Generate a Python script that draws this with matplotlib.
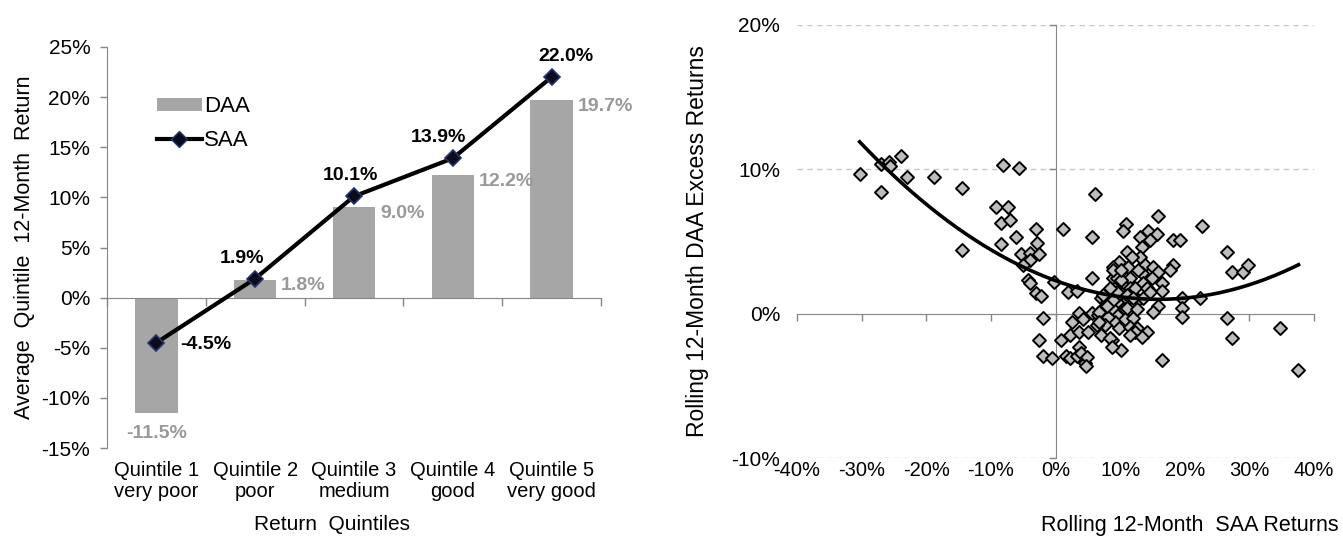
import numpy as np
import matplotlib
matplotlib.use("Agg")
import matplotlib.pyplot as plt
from matplotlib.lines import Line2D
from matplotlib.patches import Patch
from matplotlib.ticker import FuncFormatter

plt.rcParams['font.family'] = ['Liberation Sans', 'DejaVu Sans']

# ---- Left panel: average quintile returns ----
quintile_labels = ["Quintile 1\nvery poor", "Quintile 2\npoor", "Quintile 3\nmedium",
                   "Quintile 4\ngood", "Quintile 5\nvery good"]
daa_returns = [-11.5, 1.8, 9.0, 12.2, 19.7]
saa_returns = [-4.5, 1.9, 10.1, 13.9, 22.0]

# ---- Right panel: rolling 12-month SAA returns vs DAA excess returns (%) ----
saa_rolling = [
    -30.3, -27.0, -25.8, -25.6, -23.9, -27.0, -23.0, -18.8, -14.4, -14.4,
    -8.2, -5.7, -9.2, -7.3, -8.5, -7.0, -6.1, -8.5, -3.0, -2.8,
    -5.3, -3.9, -2.5, -4.0, -5.1, -4.3, -4.0, -3.0, -2.2, -0.2,
    -1.9, -2.5, -2.0, -0.5,
    6.1, 1.1, 5.7, 10.9, 10.4, 15.8, 13.0, 14.3, 15.7, 14.6,
    18.2, 19.3, 22.7, 26.6, 27.3, 29.0, 29.8, 13.4, 11.0, 13.0,
    11.8, 9.9, 8.9, 11.2, 13.8, 15.1, 18.2, 17.7, 15.8, 13.4,
    9.9, 11.5, 14.9, 8.9, 13.5, 16.5, 10.4, 5.6, 1.9, 3.4,
    8.9, 9.9, 11.5, 14.6, 16.5, 11.0, 9.5, 12.7, 13.5, 15.8,
    15.1, 19.6, 19.6, 19.6, 22.4, 26.6, 27.3, 34.8, 37.6, 16.5,
    9.5, 10.7, 9.2, 10.7, 12.0, 9.9, 11.5, 12.6, 14.1, 12.3,
    13.4, 8.7, 10.2, 0.9, 2.2, 2.6, 3.7, 4.2, 3.7, 5.0,
    5.7, 6.5, 8.1, 8.7, 7.3, 7.6, 6.4, 7.1, 8.4, 8.7,
    3.7, 1.7, 2.2, 3.3, 4.0, 4.5, 7.1, 7.9, 8.7, 8.1,
    9.6, 9.2, 9.5, 10.2, 12.3, 14.1, 9.5, 11.0, 7.3, 8.9,
    12.0, 14.6, 8.9, 10.2, 12.7, 8.4, 6.8, 6.8, 7.9, 11.0,
    12.6, 11.6, 4.9, 4.7,
]
daa_excess = [
    9.7, 10.4, 10.5, 10.2, 10.9, 8.4, 9.5, 9.5, 8.7, 4.4,
    10.3, 10.1, 7.4, 7.4, 6.3, 6.5, 5.3, 4.8, 5.9, 4.9,
    4.1, 4.2, 4.1, 3.7, 3.4, 2.3, 2.1, 1.4, 1.2, 2.2,
    -0.3, -1.8, -2.9, -3.1,
    8.3, 5.9, 5.3, 6.2, 5.7, 6.8, 5.3, 5.7, 5.5, 5.1,
    5.1, 5.1, 6.1, 4.3, 2.9, 2.9, 3.4, 4.6, 4.3, 3.9,
    3.9, 3.6, 3.2, 3.2, 3.4, 3.2, 3.4, 3.0, 2.9, 2.8,
    2.8, 2.5, 2.5, 2.5, 2.1, 2.1, 2.0, 2.5, 1.5, 1.6,
    1.5, 1.6, 1.8, 1.6, 1.6, 0.95, 0.8, 0.95, 1.1, 0.5,
    0.1, 1.1, 0.4, -0.2, 1.1, -0.3, -1.7, -1.0, -3.9, -3.2,
    -0.1, 0.3, -0.6, -0.4, -0.3, -1.0, -0.9, -1.0, -1.3, -1.3,
    -1.6, -1.8, -2.5, -1.8, -1.5, -0.6, 0.05, -0.4, -1.3, -1.3,
    0.05, -0.1, -0.2, 0.4, 0.4, -0.8, -0.8, -1.5, -1.7, -2.3,
    -2.3, -2.9, -3.1, -2.9, -2.7, -3.4, 1.1, 0.8, 1.1, 1.6,
    1.3, 1.8, 2.5, 2.3, 1.8, 1.8, 1.5, 1.3, 1.3, 0.95,
    1.1, 1.5, 3.0, 3.0, 3.0, 1.8, 0.1, -0.6, 0.5, 0.4,
    0.3, -1.5, -3.0, -3.6,
]

W, H = 1343, 542
fig = plt.figure(figsize=(W / 100, H / 100), dpi=100)

AXIS_GRAY = "#868686"
BAR_GRAY = "#A6A6A6"
LABEL_GRAY = "#999999"
pct = FuncFormatter(lambda v, _: f"{v:.0f}%")

# ================= Left panel =================
ax1 = fig.add_axes([107 / W, 1 - 448 / H, (601 - 107) / W, (448 - 47) / H])
x = np.arange(1, len(quintile_labels) + 1)
ax1.bar(x, daa_returns, width=0.43, color=BAR_GRAY, zorder=2)
ax1.plot(x, saa_returns, color="black", lw=3, marker="D", markersize=8,
         markerfacecolor="#0b0b1e", markeredgecolor="#27336b", markeredgewidth=1.2,
         zorder=3)

ax1.set_xlim(0.5, len(x) + 0.5)
ax1.set_ylim(-15, 25)
ax1.set_yticks(np.arange(-15, 26, 5))
ax1.yaxis.set_major_formatter(pct)
ax1.tick_params(axis="y", labelsize=15, length=5, color=AXIS_GRAY, width=1, pad=7)
for s in ("top", "right"):
    ax1.spines[s].set_visible(False)
ax1.spines["left"].set_color(AXIS_GRAY)
ax1.spines["bottom"].set_color(AXIS_GRAY)
ax1.spines["bottom"].set_position(("data", 0))
ax1.set_xticks(np.arange(0.5, len(x) + 1, 1.0))
ax1.tick_params(axis="x", length=6, color=AXIS_GRAY, width=1, labelbottom=False)

sec1 = ax1.secondary_xaxis(0)
sec1.set_xticks(x)
sec1.set_xticklabels(quintile_labels, linespacing=1.15)
sec1.tick_params(length=0, labelsize=14.5, pad=9)
sec1.spines["bottom"].set_visible(False)

ax1.set_ylabel("Average  Quintile  12-Month  Return", fontsize=15.5, labelpad=5)
fig.text(332 / W, 1 - 525 / H, "Return  Quintiles", fontsize=15,
         ha="center", va="center")

# SAA value labels
saa_offsets = [(24, -2, "left", "center"), (-13, 12, "center", "bottom"),
               (-4, 12, "center", "bottom"), (-14, 12, "center", "bottom"),
               (14, 12, "center", "bottom")]
for xi, v, (dx, dy, ha, va) in zip(x, saa_returns, saa_offsets):
    ax1.annotate(f"{v:.1f}%", (xi, v), xytext=(dx, dy), textcoords="offset pixels",
                 ha=ha, va=va, fontsize=14, fontweight="bold", color="black")

# DAA value labels
for xi, v in zip(x, daa_returns):
    if v < 0:
        ax1.annotate(f"{v:.1f}%", (xi, v), xytext=(0, -12), textcoords="offset pixels",
                     ha="center", va="top", fontsize=14, fontweight="bold",
                     color=LABEL_GRAY)
    else:
        ax1.annotate(f"{v:.1f}%", (xi, v), xytext=(26, -6), textcoords="offset pixels",
                     ha="left", va="center", fontsize=14, fontweight="bold",
                     color=LABEL_GRAY)

handles = [Patch(facecolor=BAR_GRAY, edgecolor="none"),
           Line2D([], [], color="black", lw=3, marker="D", markersize=8,
                  markerfacecolor="#0b0b1e", markeredgecolor="#27336b")]
ax1.legend(handles, ["DAA", "SAA"], loc="upper left",
           bbox_to_anchor=(146 / W, 1 - 85 / H), bbox_transform=fig.transFigure,
           frameon=False, fontsize=16, handlelength=2.0, handleheight=0.55,
           handletextpad=0.1, labelspacing=0.6, borderpad=0)

# ================= Right panel =================
ax2 = fig.add_axes([797 / W, 1 - 458 / H, (1314 - 797) / W, (458 - 25) / H])
ax2.set_xlim(-40, 40)
ax2.set_ylim(-10, 20)

for gy in (-10, 10, 20):
    ax2.axhline(gy, color="#C8C8C8", lw=1, ls=(0, (4, 3)), zorder=1)

ax2.scatter(saa_rolling, daa_excess, marker="D", s=44, facecolor="#BDBDBD",
            edgecolor="black", linewidth=1.4, zorder=3)

# second-order polynomial trend line over the data range
coef = np.polyfit(saa_rolling, daa_excess, 2)
xs = np.linspace(min(saa_rolling), max(saa_rolling), 200)
ax2.plot(xs, np.polyval(coef, xs), color="black", lw=2.6, zorder=4)

for s in ("top", "right"):
    ax2.spines[s].set_visible(False)
ax2.spines["left"].set_position(("data", 0))
ax2.spines["bottom"].set_position(("data", 0))
ax2.spines["left"].set_color(AXIS_GRAY)
ax2.spines["bottom"].set_color(AXIS_GRAY)
ax2.spines["left"].set_zorder(2)
ax2.spines["bottom"].set_zorder(2)
ax2.set_xticks(np.arange(-40, 41, 10))
ax2.set_yticks(np.arange(-10, 21, 10))
ax2.tick_params(axis="both", length=5, color=AXIS_GRAY, width=1,
                labelbottom=False, labelleft=False)

secx = ax2.secondary_xaxis(0)
secx.set_xticks(np.arange(-40, 41, 10))
secx.xaxis.set_major_formatter(pct)
secx.tick_params(length=0, labelsize=14.5, pad=2)
secx.spines["bottom"].set_visible(False)

secy = ax2.secondary_yaxis(0)
secy.set_yticks(np.arange(-10, 21, 10))
secy.yaxis.set_major_formatter(pct)
secy.tick_params(length=0, labelsize=15, pad=12)
secy.spines["left"].set_visible(False)

secy.set_ylabel("Rolling 12-Month DAA Excess Returns", fontsize=16.5, labelpad=16)
fig.text(1190 / W, 1 - 525 / H, "Rolling 12-Month  SAA Returns", fontsize=15.5,
         ha="center", va="center")

fig.savefig("out.png", dpi=100)
